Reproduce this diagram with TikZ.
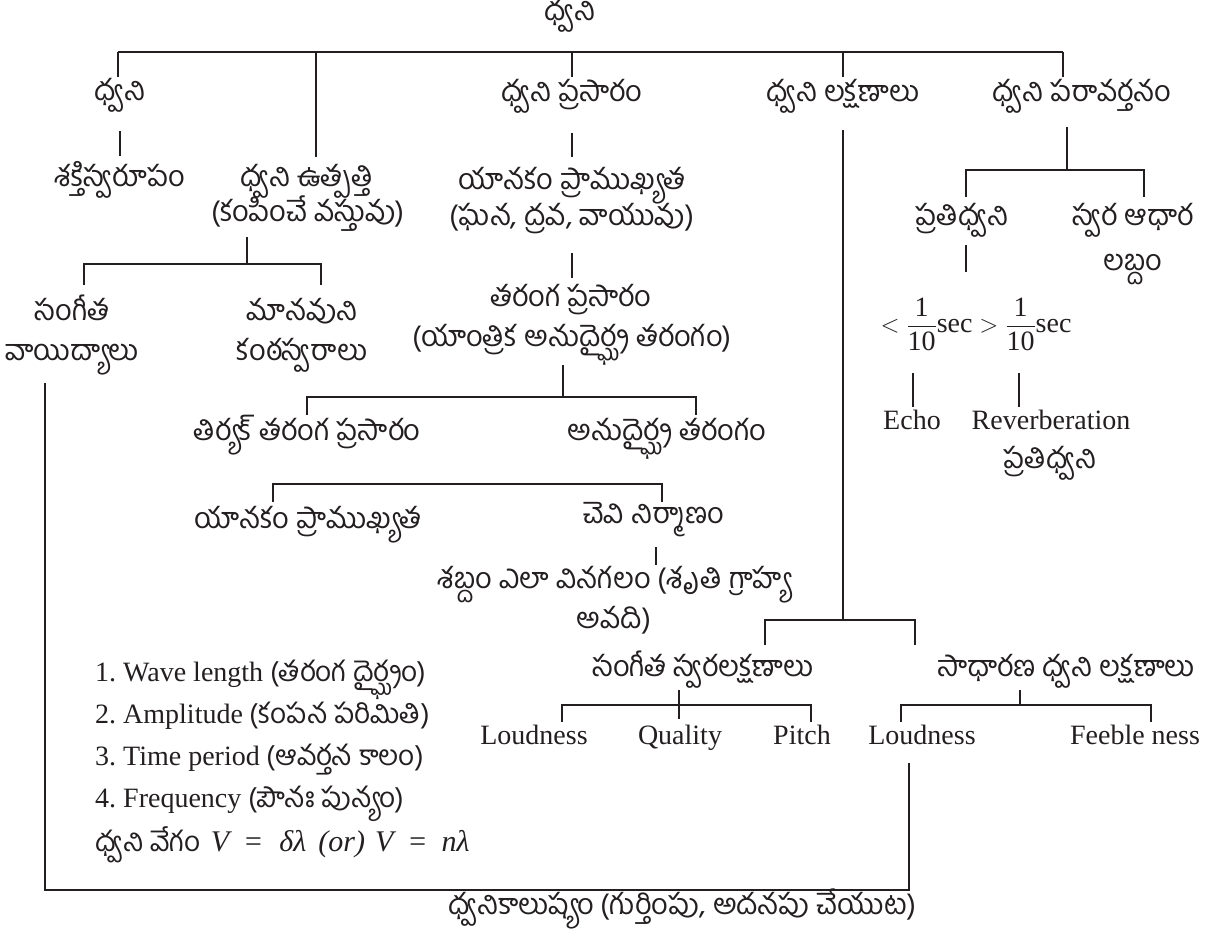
\documentclass[tikz,border=0pt]{standalone}
\usepackage{fontspec}
\usepackage{amsmath}
\setmainfont{Liberation Serif}
\newfontfamily\tefont[Script=Telugu]{Hind Guntur}
\definecolor{ink}{HTML}{231F20}
\frenchspacing
\newcommand\tl[1]{{\tefont\fontsize{28}{32}\selectfont #1}}
\newcommand\mi[1]{{\fontsize{30}{34}\selectfont\itshape #1}}
\begin{document}
\begin{tikzpicture}[x=1pt,y=-1pt,
  te/.style={font=\fontsize{29}{33}\tefont, text=ink, inner sep=0pt, text height=0.64em, text depth=0pt},
  la/.style={font=\fontsize{28}{32}\selectfont, text=ink, inner sep=0pt, text height=0.8em, text depth=0pt},
  ln/.style={line width=2.8pt, draw=ink}]
\useasboundingbox (0,0) rectangle (1215,936);
% ---------- text nodes ----------
\node[te] (root) at (570,17) {ధ్వని};
\node[te] (a1) at (120,97) {ధ్వని};
\node[te] (a2) at (120,183) {శక్తిస్వరూపం};
\node[te] (b1) at (307,183) {ధ్వని ఉత్పత్తి};
\node[te] (b2) at (308,218) {(కంపించే వస్తువు)};
\node[te] (c1) at (72,317) {సంగీత};
\node[te] (c2) at (72,357) {వాయిద్యాలు};
\node[te] (d1) at (302,317) {మానవుని};
\node[te] (d2) at (302,357) {కంఠస్వరాలు};
\node[te] (m1) at (572,98) {ధ్వని ప్రసారం};
\node[te] (m2) at (572,186) {యానకం ప్రాముఖ్యత};
\node[te] (m3) at (572,222) {(ఘన, ద్రవ, వాయువు)};
\node[te] (m4) at (571,303) {తరంగ ప్రసారం};
\node[te] (m5) at (572,343) {(యాంత్రిక అనుదైర్ఘ్య తరంగం)};
\node[te] (t1) at (307,437) {తిర్యక్ తరంగ ప్రసారం};
\node[te] (t2) at (667,437) {అనుదైర్ఘ్య తరంగం};
\node[te] (y1) at (308,525) {యానకం ప్రాముఖ్యత};
\node[te] (e1) at (654,520) {చెవి నిర్మాణం};
\node[te] (e2) at (614,585) {శబ్దం ఎలా వినగలం (శృతి గ్రాహ్య};
\node[te] (e3) at (614,625) {అవది)};
\node[te] (r1) at (843,98) {ధ్వని లక్షణాలు};
\node[te] (s1) at (703,673) {సంగీత స్వరలక్షణాలు};
\node[te] (s2) at (1066,673) {సాధారణ ధ్వని లక్షణాలు};
\node[la] (L1) at (534,740) {Loudness};
\node[la] (Q) at (680,740) {Quality};
\node[la] (P) at (802,740) {Pitch};
\node[la] (L2) at (922,740) {Loudness};
\node[la] (F) at (1135,740) {Feeble ness};
\node[te] (p1) at (1082,98) {ధ్వని పరావర్తనం};
\node[te] (p2) at (962,222) {ప్రతిధ్వని};
\node[te] (p3) at (1133,222) {స్వర ఆధార};
\node[te] (p4) at (1133,267) {లబ్దం};
\node[font=\fontsize{28}{32}\selectfont, text=ink, inner sep=0pt] (fr) at (976,324) {$<\dfrac{\mathrm{1}}{\mathrm{10}}\mathrm{sec}>\dfrac{\mathrm{1}}{\mathrm{10}}\mathrm{sec}$};
\node[la] (ec) at (912,425) {Echo};
\node[la] (rv) at (1051,425) {Reverberation};
\node[te] (p5) at (1050,465) {ప్రతిధ్వని};
\node[la, anchor=west] (w1) at (95,677) {1. Wave length \tl{(తరంగ దైర్ఘ్యం)}};
\node[la, anchor=west] (w2) at (95,719) {2. Amplitude \tl{(కంపన పరిమితి)}};
\node[la, anchor=west] (w3) at (95,761) {3. Time period \tl{(ఆవర్తన కాలం)}};
\node[la, anchor=west] (w4) at (95,803) {4. Frequency \tl{(పౌనః పున్యం)}};
\node[la, anchor=west] (w5) at (95,847) {\tl{ధ్వని వేగం}\hspace{10pt}\mi{V}\hspace{14pt}\mi{=}\hspace{16pt}\mi{δλ}\hspace{12pt}\mi{(or)}\hspace{10pt}\mi{V}\hspace{14pt}\mi{=}\hspace{14pt}\mi{nλ}};
\node[te] (pol) at (682,911) {ధ్వనికాలుష్యం (గుర్తింపు, అదనపు చేయుట)};
% ---------- junction coordinates ----------
\coordinate (tL) at (118,52); \coordinate (tR) at (1063,52);
\coordinate (tb) at (316,52); \coordinate (tm) at (572,52); \coordinate (tr) at (843,52);
\coordinate (k1) at (118,77); \coordinate (k2) at (316,157); \coordinate (k3) at (572,77);
\coordinate (k4) at (843,77); \coordinate (k5) at (1063,77);
\coordinate (a1s) at (120,131); \coordinate (a2n) at (120,156);
\coordinate (b2s) at (247,237); \coordinate (bb) at (247,264);
\coordinate (bL) at (84,264); \coordinate (bR) at (321,264);
\coordinate (bLd) at (84,285); \coordinate (bRd) at (321,285);
\coordinate (c2s) at (45,383); \coordinate (lc) at (45,890); \coordinate (rc) at (909,890); \coordinate (L2s) at (909,763);
\coordinate (m1s) at (572,133); \coordinate (m2n) at (572,157);
\coordinate (m3s) at (572,253); \coordinate (m4n) at (572,278);
\coordinate (m5s) at (563,365); \coordinate (mb) at (563,397);
\coordinate (mL) at (307,397); \coordinate (mR) at (696,397);
\coordinate (mLd) at (307,415); \coordinate (mRd) at (696,415);
\coordinate (nL) at (273,484); \coordinate (nR) at (662,484);
\coordinate (nLd) at (273,502); \coordinate (nRd) at (662,502);
\coordinate (e1s) at (656,547); \coordinate (e2n) at (656,565);
\coordinate (r1s) at (843,130); \coordinate (rb) at (843,620);
\coordinate (rL) at (765,620); \coordinate (rR) at (915,620);
\coordinate (rLd) at (765,645); \coordinate (rRd) at (915,645);
\coordinate (s1s) at (679,690); \coordinate (s1b) at (679,719);
\coordinate (sL) at (562,705); \coordinate (sR) at (811,705);
\coordinate (sLd) at (562,722); \coordinate (sRd) at (811,722);
\coordinate (s2s) at (1020,690); \coordinate (s2b) at (1020,705);
\coordinate (uL) at (901,705); \coordinate (uR) at (1151,705);
\coordinate (uLd) at (901,722); \coordinate (uRd) at (1151,722);
\coordinate (p1s) at (1067,127); \coordinate (pb) at (1067,170);
\coordinate (pL) at (966,170); \coordinate (pR) at (1144,170);
\coordinate (pLd) at (966,197); \coordinate (pRd) at (1144,197);
\coordinate (p2s) at (966,245); \coordinate (frn) at (966,272);
\coordinate (f1) at (913,373); \coordinate (f1d) at (913,407);
\coordinate (f2) at (1019,373); \coordinate (f2d) at (1019,407);
% ---------- connectors ----------
\draw[ln] (tL) -- (tR);
\draw[ln] (k1) -- (tL); \draw[ln] (tb) -- (k2); \draw[ln] (tm) -- (k3);
\draw[ln] (tr) -- (k4); \draw[ln] (tR) -- (k5);
\draw[ln] (a1s) -- (a2n);
\draw[ln] (b2s) -- (bb);
\draw[ln] (bLd) -- (bL) -- (bR) -- (bRd);
\draw[ln] (c2s) -- (lc) -- (rc) -- (L2s);
\draw[ln] (m1s) -- (m2n);
\draw[ln] (m3s) -- (m4n);
\draw[ln] (m5s) -- (mb);
\draw[ln] (mLd) -- (mL) -- (mR) -- (mRd);
\draw[ln] (nLd) -- (nL) -- (nR) -- (nRd);
\draw[ln] (e1s) -- (e2n);
\draw[ln] (r1s) -- (rb);
\draw[ln] (rLd) -- (rL) -- (rR) -- (rRd);
\draw[ln] (s1s) -- (s1b);
\draw[ln] (sLd) -- (sL) -- (sR) -- (sRd);
\draw[ln] (s2s) -- (s2b);
\draw[ln] (uLd) -- (uL) -- (uR) -- (uRd);
\draw[ln] (p1s) -- (pb);
\draw[ln] (pLd) -- (pL) -- (pR) -- (pRd);
\draw[ln] (p2s) -- (frn);
\draw[ln] (f1) -- (f1d);
\draw[ln] (f2) -- (f2d);
\end{tikzpicture}
\end{document}
